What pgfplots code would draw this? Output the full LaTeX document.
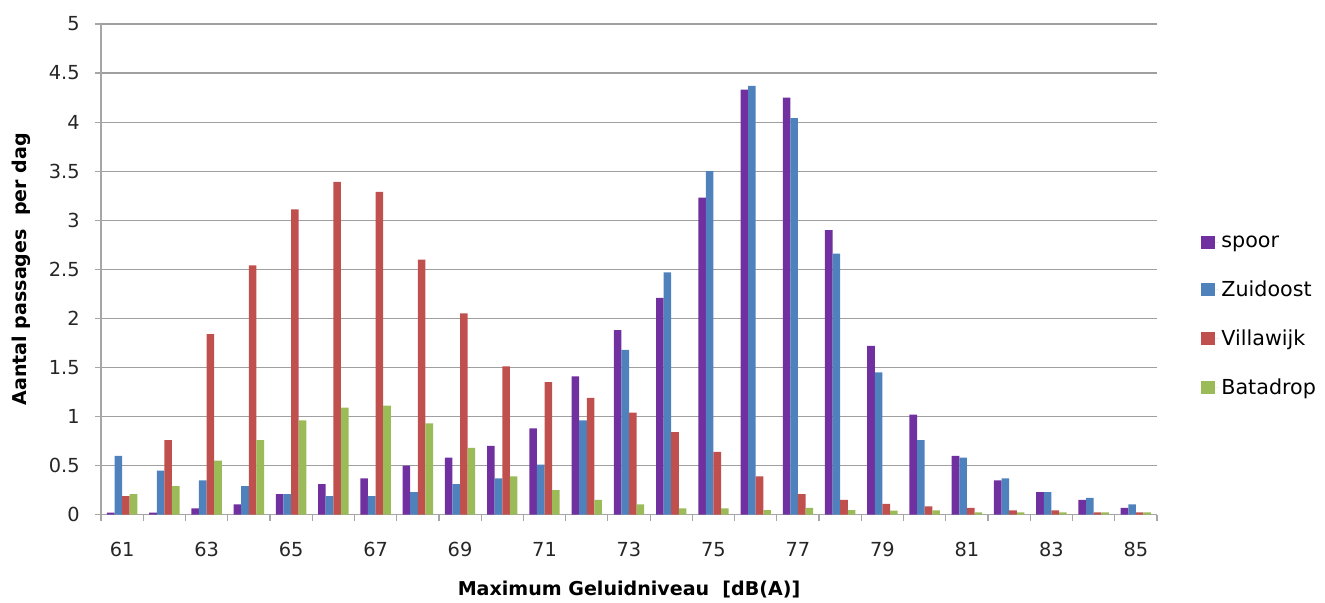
\documentclass[border=0pt]{standalone}
\usepackage{pgfplots}
\pgfplotsset{compat=1.18}
\usepackage{fontspec}
\setmainfont{DejaVu Sans}

\definecolor{cspoor}{HTML}{7030A0}
\definecolor{czuid}{HTML}{4F81BD}
\definecolor{cvilla}{HTML}{C0504D}
\definecolor{cbata}{HTML}{9BBB59}

\pgfplotstableread{
x   spoor  zuid  villa  bata
61  0.02   0.60  0.19   0.21
62  0.02   0.45  0.76   0.29
63  0.065  0.35  1.84   0.55
64  0.105  0.29  2.54   0.76
65  0.21   0.21  3.11   0.96
66  0.31   0.19  3.39   1.09
67  0.37   0.19  3.29   1.11
68  0.50   0.23  2.60   0.93
69  0.58   0.31  2.05   0.68
70  0.70   0.37  1.51   0.39
71  0.88   0.51  1.35   0.25
72  1.41   0.96  1.19   0.15
73  1.88   1.68  1.04   0.105
74  2.21   2.47  0.84   0.065
75  3.23   3.50  0.64   0.065
76  4.33   4.37  0.39   0.045
77  4.25   4.04  0.21   0.07
78  2.90   2.66  0.15   0.045
79  1.72   1.45  0.11   0.04
80  1.02   0.76  0.085  0.044
81  0.60   0.58  0.07   0.024
82  0.35   0.37  0.044  0.024
83  0.23   0.23  0.044  0.024
84  0.15   0.17  0.024  0.024
85  0.07   0.105 0.024  0.024
}\datatable

\begin{document}
\begin{tikzpicture}
\begin{axis}[
    width=792pt, height=368pt,
    scale only axis,
    ybar=0pt,
    bar width=0.18,
    xmin=60.5, xmax=85.5,
    ymin=0, ymax=5,
    axis x line=bottom, axis y line=left,
    axis line style={-, gray!70, line width=0.9pt},
    xtick={60.5,61.5,...,85.5},
    xticklabels={},
    extra x ticks={61,63,...,85},
    extra x tick style={major tick length=0pt, grid=none},
    ytick={0,0.5,...,5},
    yticklabel style={/pgf/number format/fixed},
    tick align=outside,
    major tick length=4.5pt,
    tick style={gray!70, line width=0.9pt},
    ymajorgrids=true,
    grid style={gray!75, line width=0.9pt},
    /pgf/number format/assume math mode=true,
    tick label style={font=\fontsize{14.5}{17}\selectfont, text=black!85},
    xticklabel style={yshift=-17pt},
    yticklabel style={xshift=-8pt},
    ylabel={\textbf{Aantal passages\ \ per dag}},
    xlabel={\textbf{Maximum Geluidniveau\ \ [dB(A)]}},
    label style={font=\fontsize{14.3}{17}\selectfont},
    ylabel style={at={(axis description cs:0,0.5)}, anchor=center, yshift=60pt},
    xlabel style={at={(axis description cs:0.5,0)}, anchor=center, yshift=-56pt},
    legend style={at={(1.038,0.405)}, anchor=west, draw=none,
        font=\fontsize{15.5}{18}\selectfont, row sep=19.5pt,
        legend cell align=left},
    legend image code/.code={\fill[#1] (0pt,-5pt) rectangle (10pt,5pt);
        \path (0pt,0pt) -- (13pt,0pt);},
]
\addplot[fill=cspoor, draw=none] table[x=x, y=spoor] {\datatable};
\addplot[fill=czuid, draw=none] table[x=x, y=zuid] {\datatable};
\addplot[fill=cvilla, draw=none] table[x=x, y=villa] {\datatable};
\addplot[fill=cbata, draw=none] table[x=x, y=bata] {\datatable};
\legend{spoor, Zuidoost, Villawijk, Batadrop}
\coordinate (bl) at (rel axis cs:0,0);
\coordinate (tr) at (rel axis cs:1,1);
\end{axis}
\path ([shift={(-75.75pt,-66pt)}]bl) rectangle ([shift={(126pt,18pt)}]tr);
\end{tikzpicture}
\end{document}
